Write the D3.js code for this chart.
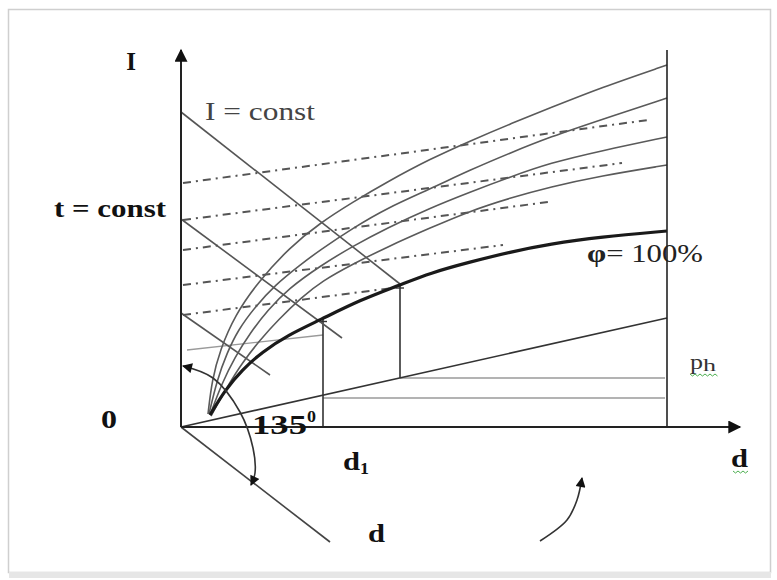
<!DOCTYPE html>
<html>
<head>
<meta charset="utf-8">
<script src="https://cdn.jsdelivr.net/npm/d3@7"></script>
<style>
  html, body { margin: 0; padding: 0; background: #fff; }
  svg { display: block; }
  text { font-family: "Liberation Serif", "DejaVu Serif", serif; }
</style>
</head>
<body>
<div id="chart"></div>
<script>
// I-d diagram sketch, values in chart units (d along x, I along y)

// relative humidity curves, [d, I]
const phiCurve1 = [[2.7,1.3],[3.1,4.7],[3.9,7.7],[5.4,11.2],[7.7,14.5],[10.9,18.0],[13.9,20.4],[17.2,22.5],[20.6,24.5],[24.9,26.8],[28.9,28.6],[32.9,30.3],[36.9,31.9],[41.9,33.9],[48.6,36.2]];
const phiCurve2 = [[2.8,1.3],[3.6,4.7],[4.6,7.4],[5.7,9.7],[7.4,12.0],[9.4,14.2],[11.9,16.2],[13.9,17.7],[17.2,19.9],[20.6,21.9],[24.9,23.8],[28.9,25.7],[32.9,27.4],[36.9,29.0],[41.9,30.7],[48.6,32.9]];
const phiCurve3 = [[2.9,1.2],[4.1,4.4],[5.4,7.0],[6.9,9.4],[8.7,11.7],[10.7,13.8],[13.9,16.1],[17.2,18.1],[20.6,19.9],[24.9,21.9],[28.9,23.5],[32.9,25.0],[36.9,26.4],[41.9,27.6],[48.6,29.0]];
const phiCurve4 = [[3.0,1.1],[4.6,4.0],[6.1,6.4],[7.9,8.7],[9.7,10.7],[12.1,13.0],[14.1,14.6],[17.2,16.3],[20.6,18.0],[24.9,19.9],[28.9,21.6],[32.9,22.9],[36.9,24.0],[41.9,25.1],[48.6,26.2]];
const phiSaturation = [[2.9,1.2],[4.4,3.7],[6.1,5.7],[8.1,7.5],[10.7,9.2],[13.9,10.7],[17.9,12.7],[21.9,14.2],[24.9,15.4],[28.9,16.5],[32.9,17.5],[36.9,18.3],[41.9,19.0],[48.6,19.6]];

// isotherms t = const (dash-dot)
const tLines = [
  [[0.2,24.4],[46.7,30.7]],
  [[0.2,20.7],[44.1,26.4]],
  [[0.2,17.7],[36.7,22.5]],
  [[0.2,14.2],[32.2,18.2]],
  [[0.2,11.2],[21.9,14.0]]
];

// enthalpy lines I = const
const iLines = [
  [[0,31.5],[21.9,14.3]],
  [[0,20.8],[16.1,8.9]],
  [[0,11.4],[8.9,5.2]]
];

// auxiliary construction
const dAxisDiag = [[0,0],[14.9,-11.5]];
const pnLine = [[0,0],[48.6,10.9]];
const greyLine = [[0.6,7.7],[14.2,9.2]];
const d1Value = 14.2;
const d2Value = 21.9;
const hLines = [
  [[21.9,4.9],[48.4,4.9]],
  [[14.2,2.9],[48.4,2.9]]
];
const dMax = 48.6;
const axisTop = 37.7;
const axisRight = 55.9;
const angleArc = [[0.2,6.1],[3.2,4.9],[5.9,1.5],[7.2,-2.1],[7.4,-4.6],[7.0,-5.8]];
const turnArrow = [[35.9,-11.4],[38.6,-9.3],[39.6,-7.3],[40.1,-5.1]];

const W = 777, H = 580;
const x = d3.scaleLinear().domain([0, 48.6]).range([181, 667]);
const y = d3.scaleLinear().domain([0, 37.7]).range([427, 50]);

const svg = d3.select('#chart').append('svg')
  .attr('width', W).attr('height', H);

// frame
svg.append('rect')
  .attr('x', 8.5).attr('y', 9.5).attr('width', 762).attr('height', 563)
  .attr('fill', '#fff').attr('stroke', '#cfcfcf').attr('stroke-width', 1.5);
svg.append('rect')
  .attr('x', 9).attr('y', 572).attr('width', 762).attr('height', 6)
  .attr('fill', '#e6e6e6');

const defs = svg.append('defs');
function marker(id, w, h) {
  defs.append('marker')
    .attr('id', id)
    .attr('viewBox', '0 0 10 10')
    .attr('refX', 9).attr('refY', 5)
    .attr('markerUnits', 'userSpaceOnUse')
    .attr('markerWidth', w).attr('markerHeight', h)
    .attr('orient', 'auto-start-reverse')
    .append('path')
    .attr('d', 'M0,0 L10,5 L0,10 z')
    .attr('fill', '#111');
}
marker('axisArrow', 15, 13);
marker('smallArrow', 12, 10);

const straight = d3.line().x(p => x(p[0])).y(p => y(p[1]));
const smooth = d3.line().x(p => x(p[0])).y(p => y(p[1])).curve(d3.curveBasis);
const arcLine = d3.line().x(p => x(p[0])).y(p => y(p[1])).curve(d3.curveCatmullRom.alpha(0.5));

const g = svg.append('g');

// auxiliary lines
hLines.forEach(l => g.append('path').attr('d', straight(l))
  .attr('fill', 'none').attr('stroke', '#9a9a9a').attr('stroke-width', 1.4));
g.append('path').attr('d', straight(greyLine))
  .attr('fill', 'none').attr('stroke', '#9a9a9a').attr('stroke-width', 1.4);
g.append('path').attr('d', straight(pnLine))
  .attr('fill', 'none').attr('stroke', '#333').attr('stroke-width', 1.6);

// verticals
const phiAt = d => {
  const i = d3.bisector(p => p[0]).left(phiSaturation, d);
  const a = phiSaturation[i - 1], b = phiSaturation[i];
  return a[1] + (b[1] - a[1]) * (d - a[0]) / (b[0] - a[0]);
};
const pnAt = d => pnLine[1][1] * d / pnLine[1][0];
g.append('path').attr('d', straight([[d1Value, 0], [d1Value, phiAt(d1Value)]]))
  .attr('stroke', '#333').attr('stroke-width', 1.6);
g.append('path').attr('d', straight([[d2Value, pnAt(d2Value)], [d2Value, phiAt(d2Value)]]))
  .attr('stroke', '#333').attr('stroke-width', 1.6);
[d1Value, d2Value].forEach(d => {
  g.append('line')
    .attr('x1', x(d) - 4).attr('x2', x(d) + 4)
    .attr('y1', y(phiAt(d)) + 3).attr('y2', y(phiAt(d)) + 3)
    .attr('stroke', '#333').attr('stroke-width', 1.4);
});

// isotherms
tLines.forEach(l => g.append('path').attr('d', straight(l))
  .attr('fill', 'none').attr('stroke', '#555').attr('stroke-width', 2)
  .attr('stroke-dasharray', '8,5,2,5'));

// enthalpy lines
iLines.forEach(l => g.append('path').attr('d', straight(l))
  .attr('fill', 'none').attr('stroke', '#555').attr('stroke-width', 1.6));
g.append('path').attr('d', straight(dAxisDiag))
  .attr('fill', 'none').attr('stroke', '#444').attr('stroke-width', 1.6);

// humidity curves
[phiCurve1, phiCurve2, phiCurve3, phiCurve4].forEach(c => g.append('path')
  .attr('d', smooth(c)).attr('fill', 'none')
  .attr('stroke', '#5a5a5a').attr('stroke-width', 1.6));
g.append('path').attr('d', smooth(phiSaturation)).attr('fill', 'none')
  .attr('stroke', '#1a1a1a').attr('stroke-width', 3.2);

// right border line
g.append('path').attr('d', straight([[dMax, 0], [dMax, axisTop]]))
  .attr('stroke', '#222').attr('stroke-width', 1.6);

// axes
g.append('path').attr('d', straight([[0, 0], [0, axisTop]]))
  .attr('stroke', '#222').attr('stroke-width', 2).attr('marker-end', 'url(#axisArrow)');
g.append('path').attr('d', straight([[0, 0], [axisRight, 0]]))
  .attr('stroke', '#222').attr('stroke-width', 2).attr('marker-end', 'url(#axisArrow)');

// angle arc and turning arrow
g.append('path').attr('d', arcLine(angleArc)).attr('fill', 'none')
  .attr('stroke', '#333').attr('stroke-width', 1.6)
  .attr('marker-start', 'url(#smallArrow)').attr('marker-end', 'url(#smallArrow)');
g.append('path').attr('d', arcLine(turnArrow)).attr('fill', 'none')
  .attr('stroke', '#333').attr('stroke-width', 1.6)
  .attr('marker-end', 'url(#smallArrow)');

// labels
const txt = (s, px, py, opts = {}) => svg.append('text')
  .attr('x', px).attr('y', py)
  .attr('font-size', opts.size || 24)
  .attr('font-weight', opts.bold ? 'bold' : 'normal')
  .attr('fill', opts.fill || '#111')
  .attr('text-anchor', opts.anchor || 'start')
  .call(t => { if (opts.len) t.attr('textLength', opts.len).attr('lengthAdjust', 'spacingAndGlyphs'); })
  .text(s);

txt('I', 131, 70, { size: 25, bold: true, anchor: 'middle' });
txt('I = const', 205, 120, { size: 26, fill: '#444', len: 110 });
txt('t = const', 54, 217, { size: 25, bold: true, len: 112 });
txt('0', 101, 428, { size: 25, bold: true, len: 16 });

const phiLabel = svg.append('text').attr('x', 587).attr('y', 262).attr('font-size', 26)
  .attr('fill', '#222').attr('textLength', 116).attr('lengthAdjust', 'spacingAndGlyphs');
phiLabel.append('tspan').attr('font-weight', 'bold').text('φ');
phiLabel.append('tspan').text('= 100%');

txt('135', 252, 434, { size: 28, bold: true, len: 55 });
txt('0', 307, 422, { size: 16, bold: true, len: 9 });

txt('d', 343, 470, { size: 25, bold: true, len: 17 });
txt('1', 360, 474, { size: 16, bold: true, len: 9 });

txt('d', 368, 542, { size: 26, bold: true, len: 17 });
txt('d', 731, 467, { size: 26, bold: true, len: 17 });

txt('p', 690, 369, { size: 22, fill: '#333', len: 13 });
txt('h', 703, 371, { size: 16, fill: '#333', len: 13 });

// spell-check squiggles
const squiggle = (x0, x1, yy) => {
  const pts = [];
  for (let px = x0, k = 0; px <= x1; px += 2.5, k++) pts.push([px, yy + (k % 2 ? 2 : 0)]);
  svg.append('path').attr('d', d3.line()(pts))
    .attr('fill', 'none').attr('stroke', '#4caf50').attr('stroke-width', 1);
};
squiggle(690, 718, 374);
squiggle(733, 749, 471);
</script>
</body>
</html>
